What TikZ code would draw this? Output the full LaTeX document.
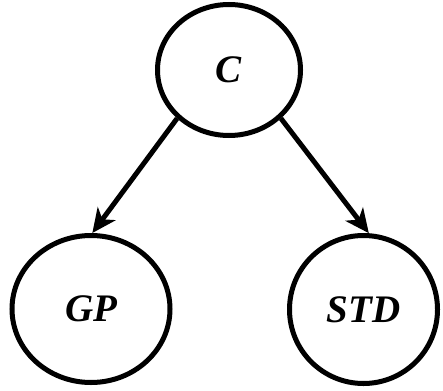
\documentclass[tikz,border=0pt]{standalone}
\usepackage{fontspec}
\setmainfont{Liberation Serif}
\usetikzlibrary{shapes.geometric,arrows.meta}
\tikzset{
  var/.style={draw=black, line width=5pt, ellipse, inner sep=0pt,
    font=\fontsize{39}{42}\selectfont\bfseries\itshape},
  edge/.style={line width=5pt, -{Stealth[length=24pt,width=22pt,inset=7pt]}}
}
\begin{document}
\begin{tikzpicture}[x=1pt,y=-1pt]
\useasboundingbox (0,0) rectangle (443,390);
\node[var, minimum width=143pt, minimum height=131pt] (C) at (229,70) {\raisebox{-3pt}{C}};
\node[var, minimum width=158pt, minimum height=147pt] (GP) at (91,309) {\raisebox{-3pt}{GP}};
\node[var, minimum width=148pt, minimum height=148pt] (STD) at (363.5,309.5) {\raisebox{-3pt}{STD}};
\draw[edge] (C.223) -- (GP.89);
\draw[edge] (C.317) -- (STD.86);
\end{tikzpicture}
\end{document}
